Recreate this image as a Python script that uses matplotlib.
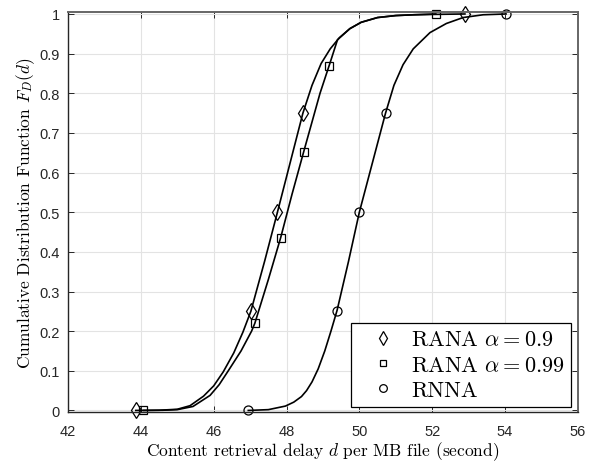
import matplotlib
matplotlib.use('Agg')
import matplotlib.pyplot as plt

plt.rcParams['mathtext.fontset'] = 'cm'
plt.rcParams['axes.unicode_minus'] = False

# marker samples
rana09_x = [43.86, 47.02, 47.75, 48.45, 52.9]
rana09_y = [0.0, 0.25, 0.5, 0.75, 1.0]
rana099_x = [44.07, 47.13, 47.84, 48.47, 49.16, 52.1]
rana099_y = [0.0, 0.22, 0.436, 0.652, 0.868, 1.0]
rnna_x = [46.95, 49.39, 50.0, 50.72, 54.03]
rnna_y = [0.0, 0.25, 0.5, 0.75, 1.0]

# smooth curves
curve09_x = [43.86, 44.5, 45.0, 45.35, 45.72, 46.0, 46.26, 46.55, 46.8, 47.02,
             47.4, 47.75, 48.1, 48.45, 48.7, 48.95, 49.2, 49.45, 49.74, 50.05,
             50.5, 51.0, 51.5, 52.1, 52.9]
curve09_y = [0.0, 0.0005, 0.003, 0.012, 0.036, 0.062, 0.097, 0.145, 0.197, 0.25,
             0.377, 0.5, 0.625, 0.75, 0.82, 0.875, 0.912, 0.94, 0.963, 0.979,
             0.991, 0.996, 0.998, 0.999, 1.0]
curve099_x = [44.07, 44.6, 45.0, 45.43, 45.9, 46.15, 46.4, 46.75, 47.04, 47.13,
              47.5, 47.84, 48.15, 48.47, 48.92, 49.2, 49.4, 49.74, 50.05,
              50.5, 51.0, 51.5, 52.1]
curve099_y = [0.0, 0.0005, 0.002, 0.01, 0.038, 0.065, 0.1, 0.15, 0.2, 0.22,
              0.33, 0.436, 0.545, 0.652, 0.8, 0.878, 0.935, 0.963, 0.979,
              0.991, 0.996, 0.998, 1.0]
curvenn_x = [46.95, 47.5, 47.97, 48.2, 48.41, 48.55, 48.7, 48.87, 49.05, 49.22,
             49.39, 49.7, 50.0, 50.36, 50.72, 50.95, 51.2, 51.48, 51.94, 52.39,
             52.85, 53.4, 54.03]
curvenn_y = [0.0, 0.002, 0.011, 0.021, 0.035, 0.05, 0.072, 0.105, 0.15, 0.2,
             0.253, 0.375, 0.5, 0.625, 0.75, 0.82, 0.872, 0.912, 0.953, 0.976,
             0.991, 0.998, 1.0]

xticks = [42, 44, 46, 48, 50, 52, 54, 56]
yticks = [0, 0.1, 0.2, 0.3, 0.4, 0.5, 0.6, 0.7, 0.8, 0.9, 1]
ytick_labels = ['0', '0.1', '0.2', '0.3', '0.4', '0.5', '0.6', '0.7', '0.8', '0.9', '1']

fig = plt.figure(figsize=(5.92, 4.64), dpi=100)
ax = fig.add_axes([0.115, 0.109, 0.861, 0.863])

lw = 1.2
ax.plot(curve09_x, curve09_y, color='black', lw=lw)
ax.plot(curve099_x, curve099_y, color='black', lw=lw)
ax.plot(curvenn_x, curvenn_y, color='black', lw=lw)

mk = dict(color='black', ls='none', mfc='none', mew=0.9, clip_on=False)
ax.plot(rana09_x, rana09_y, marker='d', ms=8, label=r'RANA $\alpha = 0.9$', **mk)
ax.plot(rana099_x, rana099_y, marker='s', ms=5.5, label=r'RANA $\alpha = 0.99$', **mk)
ax.plot(rnna_x, rnna_y, marker='o', ms=6.5, label='RNNA', **mk)

ax.set_xlim(42, 56)
ax.set_ylim(-0.005, 1.005)
ax.set_xticks(xticks)
ax.set_yticks(yticks)
ax.set_yticklabels(ytick_labels)
ax.grid(True, color='#e3e3e3', lw=0.8)
ax.set_axisbelow(True)

ax.tick_params(direction='in', length=4, width=0.7, colors='#262626',
               top=True, right=True, labelsize=10.5)
ax.tick_params(axis='x', pad=8)
ax.tick_params(axis='y', pad=6)
for lab in ax.get_xticklabels() + ax.get_yticklabels():
    lab.set_family('Liberation Sans')

for side in ['left', 'bottom']:
    ax.spines[side].set_color('#262626')
    ax.spines[side].set_linewidth(1.0)
for side in ['top', 'right']:
    ax.spines[side].set_color('#666666')
    ax.spines[side].set_linewidth(1.4)

ax.set_xlabel(r'Content retrieval delay $d$ per MB file (second)',
              family='cmr10', fontsize=12.5, labelpad=1)
ax.set_ylabel(r'Cumulative Distribution Function $F_D(d)$',
              family='cmr10', fontsize=12.5, labelpad=2)

leg = ax.legend(loc='lower right', bbox_to_anchor=(0.987, 0.0145),
                borderaxespad=0, fancybox=False, framealpha=1,
                edgecolor='black', handlelength=2.3, handletextpad=0.1,
                borderpad=0.3, labelspacing=0.26, markerscale=0.85,
                prop={'family': 'cmr10', 'size': 16})
leg.get_frame().set_linewidth(0.9)

fig.savefig('out.png', dpi=100)
